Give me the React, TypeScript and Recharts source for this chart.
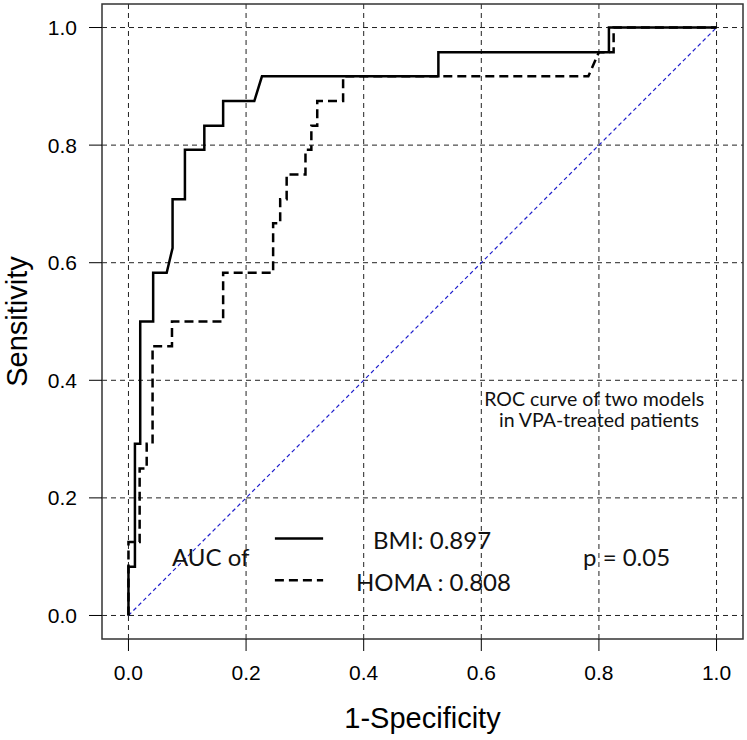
import { CartesianGrid, LineChart, Line, ReferenceArea, ReferenceDot, ReferenceLine, XAxis, YAxis } from 'recharts';

// ROC points (1-specificity, sensitivity)
const bmiFpr = [0, 0, 0.011, 0.011, 0.02, 0.02, 0.042, 0.042, 0.065, 0.075, 0.075, 0.096, 0.096, 0.129, 0.129, 0.161, 0.161, 0.214, 0.227, 0.527, 0.527, 0.817, 0.817, 1];
const bmiTpr = [0, 0.083, 0.083, 0.292, 0.292, 0.5, 0.5, 0.583, 0.583, 0.625, 0.708, 0.708, 0.792, 0.792, 0.833, 0.833, 0.875, 0.875, 0.917, 0.917, 0.958, 0.958, 1, 1];

const homaFpr = [0, 0, 0.019, 0.019, 0.031, 0.031, 0.041, 0.041, 0.074, 0.074, 0.161, 0.161, 0.246, 0.246, 0.258, 0.258, 0.269, 0.269, 0.301, 0.301, 0.311, 0.311, 0.321, 0.321, 0.365, 0.365, 0.782, 0.8, 0.825, 0.825, 1];
const homaTpr = [0, 0.125, 0.125, 0.25, 0.25, 0.292, 0.292, 0.458, 0.458, 0.5, 0.5, 0.583, 0.583, 0.667, 0.667, 0.708, 0.708, 0.75, 0.75, 0.792, 0.792, 0.833, 0.833, 0.875, 0.875, 0.917, 0.917, 0.958, 0.958, 1, 1];

const xTicks = [0, 0.2, 0.4, 0.6, 0.8, 1];
const yTicks = [0, 0.2, 0.4, 0.6, 0.8, 1];

const bmiData = bmiFpr.map((x, i) => ({ x, y: bmiTpr[i] }));
const homaData = homaFpr.map((x, i) => ({ x, y: homaTpr[i] }));

const axisFont = { fontFamily: 'Liberation Sans, Arial, sans-serif', fontSize: 21, fill: '#000' };
const titleFont = { fontFamily: 'Liberation Sans, Arial, sans-serif', fontSize: 29, fill: '#000' };
const noteFont = { fontFamily: 'Lato, sans-serif', fontSize: 24, fill: '#111' };
const rocFont = { fontFamily: 'Lato, sans-serif', fontSize: 19.5, fill: '#111' };

const App = () => {
  return (
    <div style={{ position: 'absolute', left: 0, top: 0 }}>
      <LineChart width={747} height={740} margin={{ top: 4, right: 4, bottom: 0, left: 0 }}>
        <CartesianGrid stroke='#222' strokeDasharray='5 4' horizontalValues={yTicks} verticalValues={xTicks} />
        <XAxis
          type='number'
          dataKey='x'
          domain={[-0.045, 1.045]}
          ticks={xTicks}
          interval={0}
          allowDataOverflow
          tickFormatter={(v: number) => v.toFixed(1)}
          axisLine={false}
          tickSize={12}
          tickMargin={14}
          tickLine={{ stroke: '#000' }}
          tick={axisFont}
          height={101}
          label={{ value: '1-Specificity', position: 'insideBottom', offset: 12, style: titleFont }}
        />
        <YAxis
          type='number'
          dataKey='y'
          domain={[-0.04, 1.04]}
          ticks={yTicks}
          interval={0}
          allowDataOverflow
          tickFormatter={(v: number) => v.toFixed(1)}
          axisLine={false}
          tickSize={13}
          tickMargin={12}
          tickLine={{ stroke: '#000' }}
          tick={axisFont}
          width={102}
          label={{ value: 'Sensitivity', angle: -90, position: 'insideLeft', offset: 17, style: { ...titleFont, textAnchor: 'middle' } }}
        />
        <ReferenceArea x1={-0.045} x2={1.045} y1={-0.04} y2={1.04} fill='none' stroke='#333' strokeWidth={1.5} />
        <ReferenceLine segment={[{ x: 0, y: 0 }, { x: 1, y: 1 }]} stroke='#1f1fcc' strokeWidth={1.2} strokeDasharray='4 3' />

        <Line data={homaData} dataKey='y' type='linear' stroke='#000' strokeWidth={2.5} strokeDasharray='9 5' dot={false} activeDot={false} isAnimationActive={false} />
        <Line data={bmiData} dataKey='y' type='linear' stroke='#000' strokeWidth={2.5} dot={false} activeDot={false} isAnimationActive={false} />

        {/* legend-like annotation */}
        <ReferenceLine segment={[{ x: 0.249, y: 0.131 }, { x: 0.331, y: 0.131 }]} stroke='#000' strokeWidth={2.5} />
        <ReferenceLine segment={[{ x: 0.249, y: 0.06 }, { x: 0.331, y: 0.06 }]} stroke='#000' strokeWidth={2.5} strokeDasharray='9 5' />
        <ReferenceDot x={0.074} y={0.099} r={0} fill='none' stroke='none' label={{ value: 'AUC of', position: 'right', offset: 0, style: noteFont }} />
        <ReferenceDot x={0.416} y={0.128} r={0} fill='none' stroke='none' label={{ value: 'BMI: 0.897', position: 'right', offset: 0, style: noteFont }} />
        <ReferenceDot x={0.387} y={0.056} r={0} fill='none' stroke='none' label={{ value: 'HOMA : 0.808', position: 'right', offset: 0, style: noteFont }} />
        <ReferenceDot x={0.773} y={0.099} r={0} fill='none' stroke='none' label={{ value: 'p = 0.05', position: 'right', offset: 0, style: noteFont }} />
        <ReferenceDot x={0.792} y={0.368} r={0} fill='none' stroke='none' label={{ value: 'ROC curve of two models', position: 'center', style: rocFont }} />
        <ReferenceDot x={0.8} y={0.332} r={0} fill='none' stroke='none' label={{ value: 'in VPA-treated patients', position: 'center', style: rocFont }} />
      </LineChart>
    </div>
  );
};

export default App;
